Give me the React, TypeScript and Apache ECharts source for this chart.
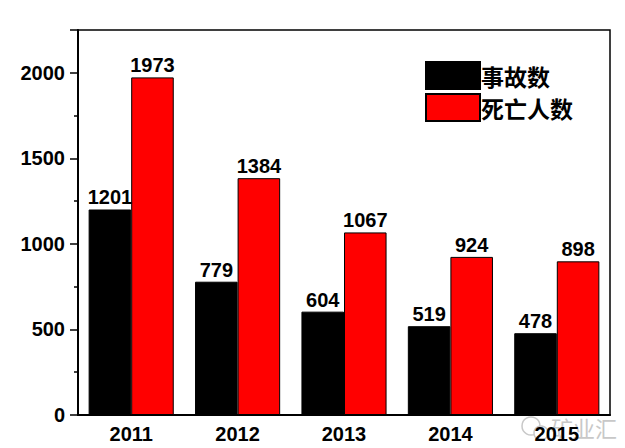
import React, { useEffect, useRef } from "react";
import * as echarts from "echarts";

const years = ["2011", "2012", "2013", "2014", "2015"];
const accidents = [1201, 779, 604, 519, 478];
const deaths = [1973, 1384, 1067, 924, 898];
const seriesNames = ["事故数", "死亡人数"];

export default function App() {
  const ref = useRef<HTMLDivElement>(null);
  useEffect(() => {
    if (!ref.current) return;
    const chart = echarts.init(ref.current, undefined, { renderer: "svg" });
    const numFont = {
      fontFamily: "Liberation Sans, Arial, sans-serif",
      fontWeight: "bold" as const,
      fontSize: 20,
      color: "#000",
    };
    chart.setOption({
      animation: false,
      backgroundColor: "#fff",
      grid: {
        left: 78,
        top: 30,
        right: 15,
        bottom: 33,
        show: true,
        borderColor: "#000",
        borderWidth: 1.5,
      },
      legend: {
        orient: "vertical",
        left: 420,
        top: 56,
        itemWidth: 54,
        itemHeight: 27,
        itemGap: 3,
        icon: "rect",
        textStyle: {
          fontFamily: "Noto Sans CJK SC",
          fontWeight: "bold",
          fontSize: 23,
          color: "#000",
          padding: [0, 0, 0, -4],
        },
        data: seriesNames,
      },
      xAxis: [
        {
          type: "category",
          data: years,
          axisLine: { lineStyle: { color: "#000", width: 2 } },
          axisTick: { alignWithLabel: true, length: 6, lineStyle: { color: "#000", width: 1.5 } },
          axisLabel: { ...numFont, margin: 9 },
        },
        {
          type: "category",
          data: years,
          position: "bottom",
          axisLine: { show: false },
          axisTick: { length: 4, lineStyle: { color: "#000", width: 1.5 } },
          axisLabel: { show: false },
        },
      ],
      yAxis: {
        type: "value",
        min: 0,
        max: 2250,
        interval: 500,
        axisLine: { show: true, lineStyle: { color: "#000", width: 2 } },
        axisTick: { show: true, length: 8, lineStyle: { color: "#000", width: 1.5 } },
        minorTick: { show: true, splitNumber: 2, length: 4, lineStyle: { color: "#000", width: 1.5 } },
        splitLine: { show: false },
        axisLabel: {
          ...numFont,
          margin: 13,
          showMaxLabel: false,
          formatter: (v: number) => (v > 2000 ? "" : String(v)),
        },
      },
      series: [
        {
          name: seriesNames[0],
          type: "bar",
          data: accidents,
          barWidth: "40%",
          barGap: "0%",
          itemStyle: { color: "#000", borderColor: "#000", borderWidth: 1 },
          label: { show: true, position: "top", distance: 2, ...numFont },
        },
        {
          name: seriesNames[1],
          type: "bar",
          data: deaths,
          barWidth: "40%",
          itemStyle: { color: "#ff0000", borderColor: "#000", borderWidth: 1 },
          label: { show: true, position: "top", distance: 2, ...numFont },
        },
      ],
      graphic: [
        {
          type: "circle",
          shape: { cx: 531, cy: 426, r: 9 },
          style: { fill: "none", stroke: "#c8c8c8", lineWidth: 1.5 },
          silent: true,
          z: 0,
        },
        {
          type: "circle",
          shape: { cx: 541, cy: 433, r: 7 },
          style: { fill: "#fff", stroke: "#c8c8c8", lineWidth: 1.5 },
          silent: true,
          z: 0,
        },
        {
          type: "text",
          x: 551,
          y: 416,
          style: {
            text: "矿业汇",
            fontFamily: "Noto Sans CJK SC",
            fontSize: 22,
            fill: "#c8c8c8",
          },
          silent: true,
          z: 0,
        },
      ],
    });
    return () => chart.dispose();
  }, []);
  return <div ref={ref} style={{ width: 625, height: 448, marginLeft: -8, marginTop: -8 }} />;
}
